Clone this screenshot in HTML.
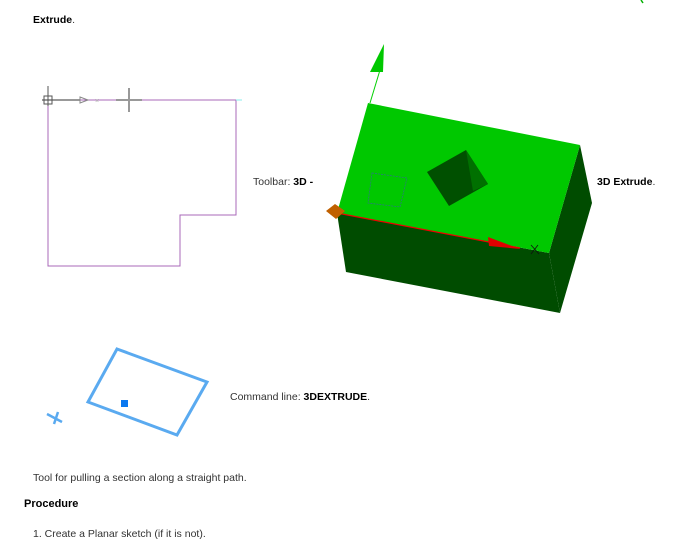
<!DOCTYPE html>
<html><head><style>
body{margin:0;width:683px;height:555px;background:#fff;position:relative;overflow:hidden;font-family:"Liberation Sans",sans-serif;font-size:10.5px;color:#333}
.t{position:absolute;white-space:nowrap}
b{color:#000}
</style></head><body>
<div class="t" style="left:33px;top:14px"><b>Extrude</b>.</div>
<div class="t" style="left:253px;top:176px">Toolbar: <b>3D -</b></div>
<div class="t" style="left:597px;top:176px"><b>3D Extrude</b>.</div>
<div class="t" style="left:230px;top:391px">Command line: <b>3DEXTRUDE</b>.</div>
<div class="t" style="left:33px;top:472px">Tool for pulling a section along a straight path.</div>
<div class="t" style="left:24px;top:498px;font-size:11px"><b>Procedure</b></div>
<div class="t" style="left:33px;top:528px">1. Create a Planar sketch (if it is not).</div>
<svg width="683" height="555" style="position:absolute;left:0;top:0">
<line x1="641" y1="0" x2="643" y2="3" stroke="#00b000" stroke-width="1.5"/>
<polyline points="48,100 236,100 236,215 180,215 180,266 48,266 48,100" fill="none" stroke="#a868b8" stroke-width="1"/>
<line x1="42" y1="100" x2="80" y2="100" stroke="#333"/>
<line x1="48" y1="86" x2="48" y2="106" stroke="#555"/>
<rect x="44" y="96" width="8" height="8" fill="none" stroke="#555"/>
<polygon points="80,97 88,100 80,103" fill="none" stroke="#888"/>
<text x="95" y="103" font-size="7" fill="#aaa">×</text>
<line x1="116" y1="100" x2="142" y2="100" stroke="#999" stroke-width="2"/>
<line x1="129" y1="88" x2="129" y2="112" stroke="#999" stroke-width="2"/>
<line x1="236" y1="100" x2="242" y2="100" stroke="#8ee"/>
<polygon points="337,213 549,253 560,313 346,272" fill="#004c00"/>
<polygon points="580,145 592,203 560,313 549,253" fill="#004c00"/>
<polygon points="368,103 580,145 549,253 337,213" fill="#00c800"/>
<polygon points="427,172 466,150 488,184 449,206" fill="#005000"/>
<polygon points="466,150 488,184 473,191" fill="#007000"/>
<polygon points="372,173 407,178 400,207 368,203" fill="none" stroke="#2a7a7a" stroke-width="0.8" stroke-dasharray="2,1"/>
<line x1="337" y1="213" x2="520" y2="248" stroke="#e00" stroke-width="1.2"/>
<polygon points="488,237 520,249 489,246" fill="#e00000"/>
<path d="M531,245 l8,9 M538,245 l-7,9" stroke="#111" stroke-width="0.8"/>
<polygon points="326,211 335,204 345,211 336,219" fill="#c06000"/>
<line x1="370" y1="103" x2="380" y2="70" stroke="#00d000" stroke-width="1"/>
<polygon points="384,44 370,72 383,72" fill="#00c800"/>
<polygon points="117,349 207,382 177,435 88,402" fill="none" stroke="#5aaaf0" stroke-width="3"/>
<rect x="121" y="400" width="7" height="7" fill="#0a78f0"/>
<path d="M47,414 l15,8 M58,412 l-4,12" stroke="#5aaaf0" stroke-width="2.5"/>
</svg>
</body></html>
